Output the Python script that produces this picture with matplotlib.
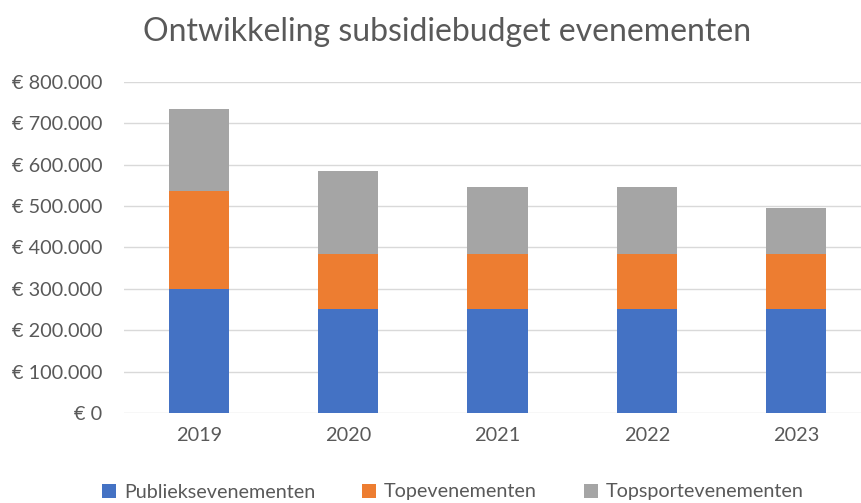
import matplotlib
matplotlib.use("Agg")
import matplotlib.pyplot as plt
import numpy as np

# data
years = ["2019", "2020", "2021", "2022", "2023"]
publiek = [300000, 250000, 250000, 250000, 250000]
top = [235000, 135000, 135000, 135000, 135000]
topsport = [200000, 200000, 160000, 160000, 110000]
series_names = ["Publieksevenementen", "Topevenementen", "Topsportevenementen"]
colors = ["#4472C4", "#ED7D31", "#A5A5A5"]

plt.rcParams['font.family'] = ['Lato', 'DejaVu Sans']
text_col = "#595959"

fig = plt.figure(figsize=(8.62, 5.03), dpi=100)
W, H = 862, 503
ax = fig.add_axes([124.4 / W, (H - 413) / H, 746.2 / W, (413 - 81.7) / H])

x = np.arange(len(years))
bottom = np.zeros(len(years))
handles = []
for vals, name, c in zip([publiek, top, topsport], series_names, colors):
    b = ax.bar(x, vals, width=0.405, bottom=bottom, color=c, label=name, zorder=3)
    handles.append(b)
    bottom += np.array(vals)

ax.set_xlim(-0.5, len(years) - 0.5)
ax.set_ylim(0, 800000)
ax.set_yticks(np.arange(0, 800001, 100000))
ax.set_yticklabels(["€ 0" if v == 0 else "€ {:,}".format(v).replace(",", ".")
                    for v in range(0, 800001, 100000)])
ax.set_xticks(x)
ax.set_xticklabels(years)
ax.grid(axis='y', color="#D9D9D9", linewidth=1, zorder=0)
for s in ax.spines.values():
    s.set_visible(False)
ax.tick_params(length=0, labelsize=14.3, colors=text_col)
ax.tick_params(axis='y', pad=16)
ax.tick_params(axis='x', pad=10)

fig.text(447 / W, 1 - 32 / H, "Ontwikkeling subsidiebudget evenementen",
         ha='center', va='center', fontsize=23, color=text_col)

fig.legend(handles=handles, labels=series_names, loc='center',
           bbox_to_anchor=(453 / W, 1 - 492 / H), ncol=3, frameon=False,
           fontsize=14.2, labelcolor=text_col, handlelength=0.7, handleheight=0.7,
           handletextpad=0.4, columnspacing=2.4)

fig.savefig("out.png", dpi=100)
